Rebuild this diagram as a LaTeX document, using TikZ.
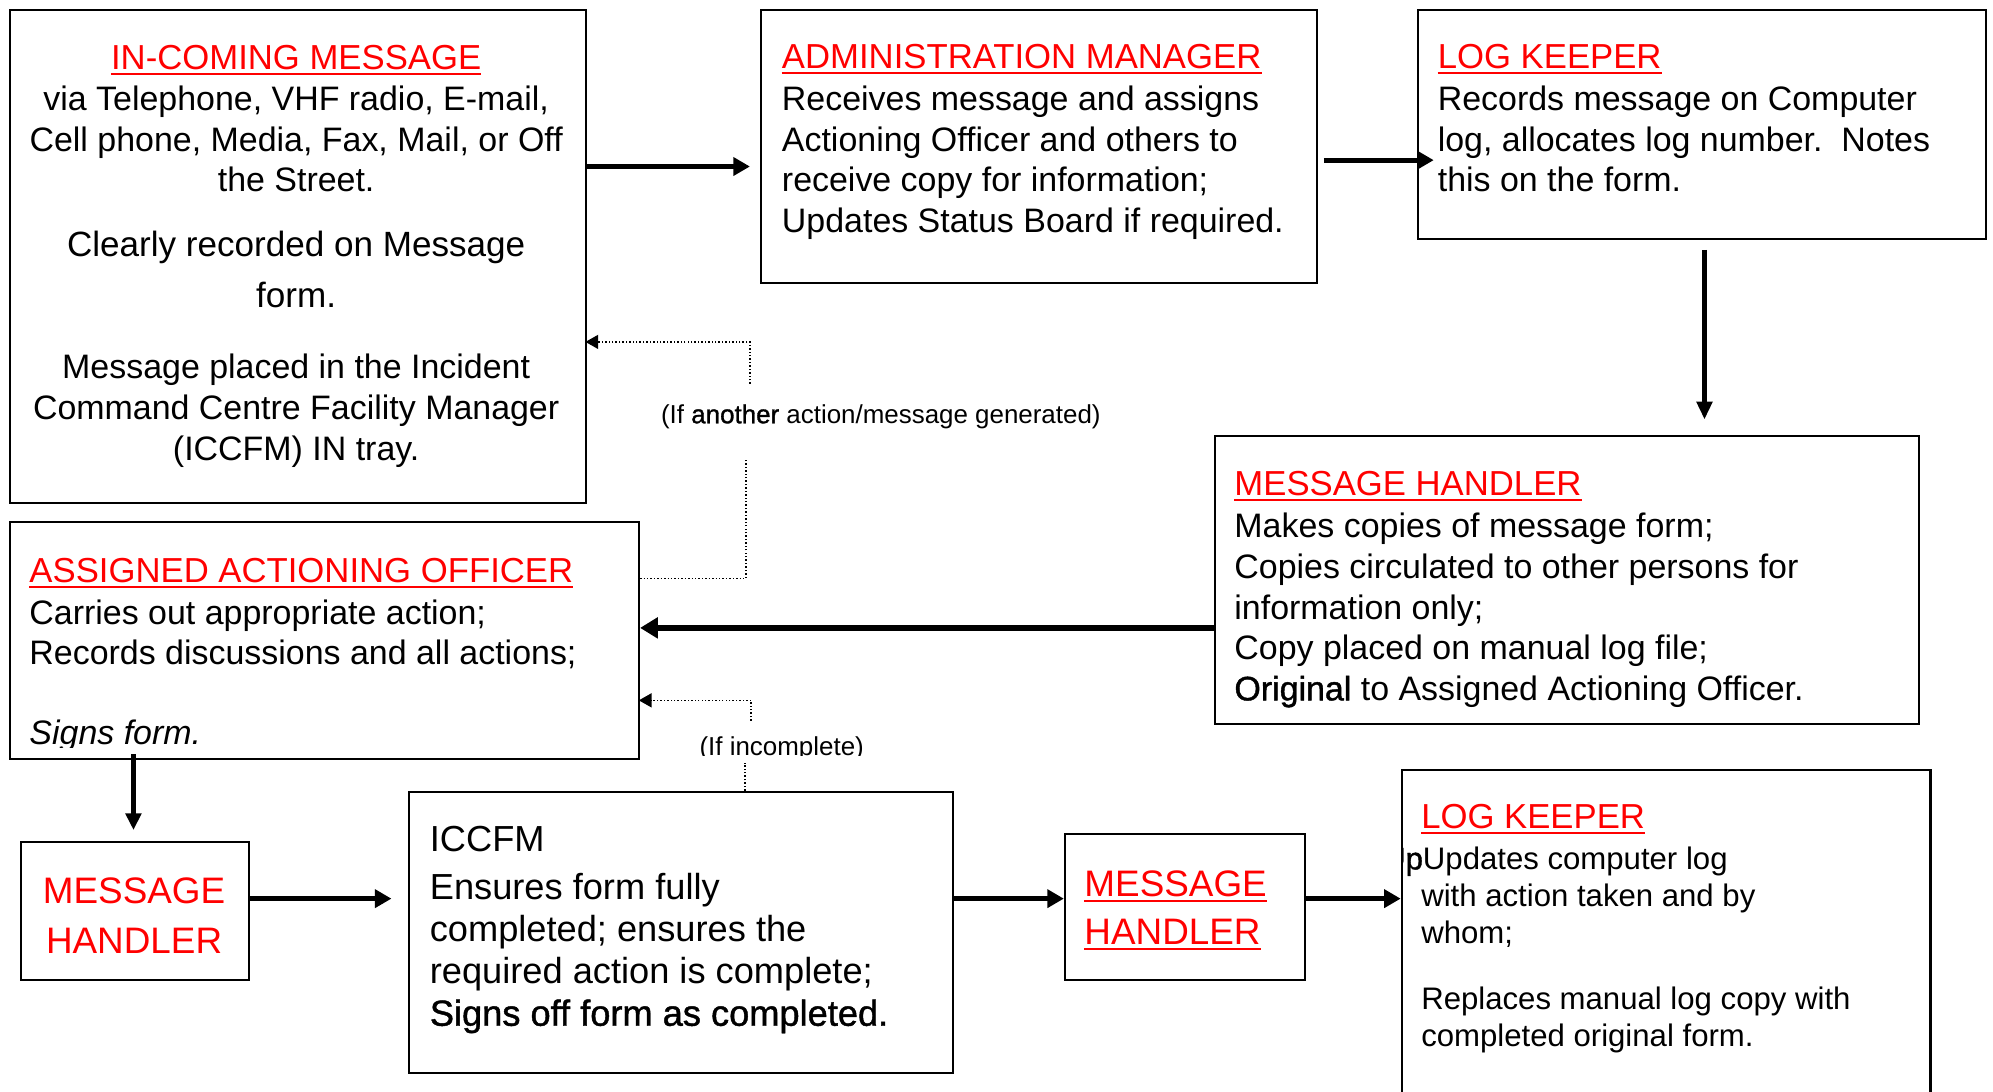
\documentclass[tikz,border=0pt]{standalone}
\usepackage{fontspec}
\setmainfont{Liberation Sans}
\newfontfamily\semibf[FakeBold=1.2]{Liberation Sans}
\usetikzlibrary{arrows.meta}
\definecolor{hred}{RGB}{255,0,0}
\newcommand\uhead[3]{\node[head,#1] (#2) {#3};
  \draw[hred, line width=1.6pt] ([yshift=-3.5pt]#2.base west) -- ([yshift=-3.5pt]#2.base east);}
\begin{document}
\begin{tikzpicture}[x=1pt,y=-1pt,
  box/.style={draw, line width=1.6pt, inner sep=0, anchor=north west},
  txt/.style={inner sep=0, anchor=base west, align=left, font=\fontsize{26.7}{32}\selectfont},
  ctxt/.style={txt, anchor=base, align=center},
  head/.style={txt, text=hred, font=\fontsize{27.3}{32}\selectfont},
  big/.style={inner sep=0, anchor=base west, align=left, font=\fontsize{28.5}{33}\selectfont},
  bigred/.style={inner sep=0, anchor=base, align=center, text=hred, font=\fontsize{29}{39}\selectfont},
  lk/.style={inner sep=0, anchor=base west, align=left, font=\fontsize{24.5}{29}\selectfont},
  lab/.style={inner sep=0, anchor=base, font=\fontsize{20.4}{24}\selectfont},
  arr/.style={line width=4pt, -{Triangle[length=13pt,width=14pt]}},
  dotl/.style={line width=1.1pt, dash pattern=on 1.1pt off 1.6pt},
  dotarr/.style={dotl, -{Triangle[length=10pt,width=11pt]}}
]
\useasboundingbox[fill=white] (0,0) rectangle (1568,858.4);

% boxes
\node[box, minimum width=453pt, minimum height=388pt] (inc) at (7,7) {};
\node[box, minimum width=437pt, minimum height=215pt] (adm) at (598,7) {};
\node[box, minimum width=447pt, minimum height=180pt] (lk1) at (1115,7) {};
\node[box, minimum width=554pt, minimum height=227pt] (mh1) at (955,342) {};
\node[box, minimum width=495pt, minimum height=186pt] (aao) at (7,410) {};
\node[box, minimum width=179pt, minimum height=108pt] (mh2) at (16,662) {};
\node[box, minimum width=428pt, minimum height=221pt] (icc) at (321,622) {};
\node[box, minimum width=189pt, minimum height=115pt] (mh3) at (837,655) {};
\node[box, minimum width=416pt, minimum height=300pt] (lk2) at (1102,605) {};

% IN-COMING MESSAGE
\node[head, anchor=base] (hinc) at (233,55) {IN-COMING MESSAGE};
\draw[hred, line width=1.6pt] ([yshift=-3.5pt]hinc.base west) -- ([yshift=-3.5pt]hinc.base east);
\node[ctxt] (tinc1) at (233,151) {via Telephone, VHF radio, E-mail,\\Cell phone, Media, Fax, Mail, or Off\\the Street.};
\node[ctxt, font=\fontsize{27.6}{32}\selectfont] (tinc2) at (233,202) {Clearly recorded on Message};
\node[ctxt, font=\fontsize{27.6}{32}\selectfont] (tinc3) at (233,242) {form.};
\node[ctxt] (tinc4) at (233,362) {Message placed in the Incident\\Command Centre Facility Manager\\(ICCFM) IN tray.};

% ADMINISTRATION MANAGER
\uhead{at={(615,54)}}{hadm}{ADMINISTRATION MANAGER}
\node[txt] (tadm) at (615,183) {Receives message and assigns\\Actioning Officer and others to\\receive copy for information;\\Updates Status Board if required.};

% LOG KEEPER (top)
\uhead{at={(1131,54)}}{hlk1}{LOG KEEPER}
\node[txt] (tlk1) at (1131,151) {Records message on Computer\\log, allocates log number.\ \ Notes\\this on the form.};

% MESSAGE HANDLER (right)
\uhead{at={(971,390)}}{hmh1}{MESSAGE HANDLER}
\node[txt] (tmh1) at (971,551) {Makes copies of message form;\\Copies circulated to other persons for\\information only;\\Copy placed on manual log file;\\{\semibf Original} to Assigned Actioning Officer.};

% ASSIGNED ACTIONING OFFICER
\uhead{at={(23,458)}}{haao}{ASSIGNED ACTIONING OFFICER}
\node[txt] (taao) at (23,523) {Carries out appropriate action;\\Records discussions and all actions;};
\begin{scope}
\clip (10,550) rectangle (400,588);
\node[txt] (taao2) at (23,586) {\itshape Signs form.};
\end{scope}

% MESSAGE HANDLER (small, left)
\node[bigred] (tmh2) at (105.5,750) {MESSAGE\\HANDLER};

% ICCFM
\node[big] (ticc0) at (338,670) {ICCFM};
\node[big] (ticc) at (338,807) {Ensures form fully\\completed; ensures the\\required action is complete;\\{\semibf Signs off form as completed.}};

% MESSAGE HANDLER (middle)
\node[inner sep=0, anchor=base west, text=hred, font=\fontsize{29}{39}\selectfont] (hmh3a) at (853,705) {MESSAGE};
\draw[hred, line width=1.6pt] ([yshift=-3.5pt]hmh3a.base west) -- ([yshift=-3.5pt]hmh3a.base east);
\node[inner sep=0, anchor=base west, text=hred, font=\fontsize{29}{39}\selectfont] (hmh3b) at (853,743) {HANDLER};
\draw[hred, line width=1.6pt] ([yshift=-3.5pt]hmh3b.base west) -- ([yshift=-3.5pt]hmh3b.base east);

% LOG KEEPER (bottom)
\uhead{at={(1118,652)}}{hlk2}{LOG KEEPER}
\begin{scope}
\clip (1103,600) rectangle (1517,858);
\node[lk] (tlk2a) at (1088,684) {{\semibf Up}Updates computer log};
\end{scope}
\node[lk] (tlk2b) at (1118,742) {with action taken and by\\whom;};
\node[lk] (tlk2c) at (1118,823) {Replaces manual log copy with\\completed original form.};

% labels
\node[lab] (lab1) at (693,333) {(If {\semibf another} action/message generated)};
\begin{scope}
\clip (530,560) rectangle (720,594);
\node[lab] (lab2) at (615,594) {(If incomplete)};
\end{scope}

% solid arrows
\draw[arr, shorten >=8pt] (inc.east |- 0,131) -- (adm.west |- 0,131);
\draw[arr, shorten <=5pt, shorten >=-13pt] (adm.east |- 0,126) -- (lk1.west |- 0,126);
\draw[line width=3.5pt, -{Triangle[length=14pt,width=12pt]}, shorten <=8pt, shorten >=12pt] (lk1.south -| 1341,0) -- (mh1.north -| 1341,0);
\draw[line width=5pt, -{Triangle[length=14pt,width=16pt]}] (mh1.west |- 0,494) -- (aao.east |- 0,494);
\draw[line width=3.5pt, -{Triangle[length=13pt,width=12pt]}, shorten <=-4pt, shorten >=9pt] (aao.south -| 105,0) -- (mh2.north -| 105,0);
\draw[arr, shorten >=13pt] (mh2.east |- 0,707) -- (icc.west |- 0,707);
\draw[arr] (icc.east |- 0,707) -- (mh3.west |- 0,707);
\draw[arr] (mh3.east |- 0,707) -- (lk2.west |- 0,707);

% dotted feedback connectors
\draw[dotl] (aao.east |- 0,455) -| (587,362);
\draw[dotarr, shorten >=-1pt] (590,302) |- (inc.east |- 0,269);
\draw[dotl] (icc.north -| 586,0) -- (586,600);
\draw[dotarr, shorten >=-1pt] (591,567) |- (aao.east |- 0,551);
\end{tikzpicture}
\end{document}
